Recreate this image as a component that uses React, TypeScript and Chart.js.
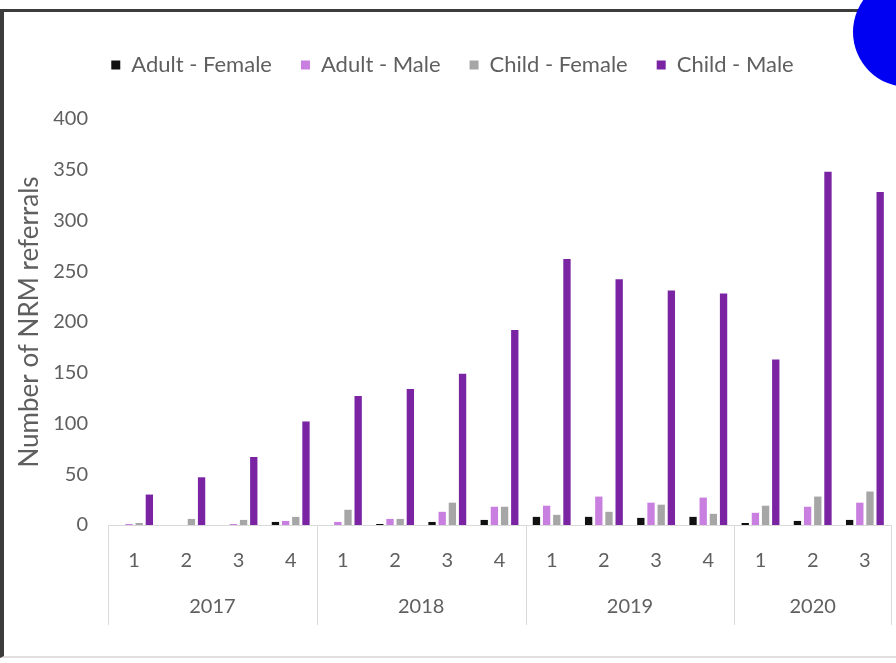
import React, { useEffect, useRef } from "react";
import { Chart, registerables } from "chart.js";

Chart.register(...registerables);

// ---- data ----
const quarters = ["1", "2", "3", "4", "1", "2", "3", "4", "1", "2", "3", "4", "1", "2", "3"];
const years = ["2017", "2018", "2019", "2020"];
const quartersPerYear = [4, 4, 4, 3];
const adultFemale = [0, 0, 0, 3, 0, 1, 3, 5, 8, 8, 7, 8, 2, 4, 5];
const adultMale = [1, 0, 1, 4, 3, 6, 13, 18, 19, 28, 22, 27, 12, 18, 22];
const childFemale = [2, 6, 5, 8, 15, 6, 22, 18, 10, 13, 20, 11, 19, 28, 33];
const childMale = [30, 47, 67, 102, 127, 134, 149, 192, 262, 242, 231, 228, 163, 348, 328];
const yMax = 400;
const yStep = 50;

const FONT = "Lato";
const TEXT = "#5f5f5f";
const LINE = "#d9d9d9";

const yearAxisPlugin = {
  id: "yearAxis",
  afterDraw(chart: any) {
    const x = chart.scales.x;
    const ctx = chart.ctx;
    const half = (x.getPixelForValue(1) - x.getPixelForValue(0)) / 2;
    const top = chart.chartArea.bottom;
    ctx.save();
    ctx.strokeStyle = LINE;
    ctx.lineWidth = 1;
    ctx.fillStyle = TEXT;
    ctx.font = `20px ${FONT}`;
    ctx.textAlign = "center";
    ctx.textBaseline = "middle";
    let idx = 0;
    years.forEach((yr, g) => {
      const start = x.getPixelForValue(idx) - half;
      const end = x.getPixelForValue(idx + quartersPerYear[g] - 1) + half;
      [start, end].forEach((px) => {
        const p = Math.round(px) + 0.5;
        ctx.beginPath();
        ctx.moveTo(p, top);
        ctx.lineTo(p, top + 100);
        ctx.stroke();
      });
      ctx.fillText(yr, (start + end) / 2, top + 82);
      idx += quartersPerYear[g];
    });
    ctx.restore();
  },
};

const legendHeightPlugin = {
  id: "legendHeight",
  beforeInit(chart: any) {
    const fit = chart.legend.fit;
    chart.legend.fit = function () {
      fit.bind(chart.legend)();
      this.height = 94;
    };
  },
};

export default function App() {
  const ref = useRef<HTMLCanvasElement | null>(null);
  useEffect(() => {
    if (!ref.current) return;
    const common = { categoryPercentage: 0.78, barPercentage: 0.72 };
    const chart = new Chart(ref.current, {
      type: "bar",
      data: {
        labels: quarters,
        datasets: [
          { label: "Adult - Female", data: adultFemale, backgroundColor: "#111111", ...common },
          { label: "Adult - Male", data: adultMale, backgroundColor: "#c97fe0", ...common },
          { label: "Child - Female", data: childFemale, backgroundColor: "#a6a6a6", ...common },
          { label: "Child - Male", data: childMale, backgroundColor: "#7a24a4", ...common },
        ],
      },
      options: {
        responsive: false,
        animation: false,
        layout: { padding: { left: 14, top: 25, right: 5, bottom: 0 } },
        plugins: {
          legend: {
            position: "top",
            labels: {
              boxWidth: 9,
              boxHeight: 9,
              padding: 29,
              color: TEXT,
              font: { family: FONT, size: 22 },
            },
          },
          tooltip: { enabled: false },
        },
        scales: {
          x: {
            grid: { display: false, drawTicks: false },
            border: { display: true, color: LINE },
            ticks: { color: TEXT, font: { family: FONT, size: 20 }, padding: 24, maxRotation: 0 },
            afterFit: (s: any) => {
              s.height = 138;
            },
          },
          y: {
            min: 0,
            max: yMax,
            grid: { display: false, drawTicks: false },
            border: { display: false },
            ticks: { stepSize: yStep, color: TEXT, font: { family: FONT, size: 20 }, padding: 20 },
            title: {
              display: true,
              text: "Number of NRM referrals",
              color: TEXT,
              font: { family: FONT, size: 26 },
              padding: { top: 0, bottom: 0 },
            },
            afterFit: (s: any) => {
              s.width = 94;
            },
          },
        },
      },
      plugins: [yearAxisPlugin, legendHeightPlugin],
    });
    return () => chart.destroy();
  }, []);

  return (
    <div style={{ position: "fixed", left: 0, top: 0, width: 896, height: 663, background: "#fff", overflow: "hidden" }}>
      <div
        style={{
          position: "absolute",
          left: 0,
          top: 9,
          width: 900,
          height: 649,
          borderLeft: "4px solid #3c3c3c",
          borderTop: "3px solid #3c3c3c",
          borderBottom: "2px solid #e0e0e0",
          boxSizing: "border-box",
        }}
      />
      <canvas ref={ref} width={896} height={663} style={{ position: "absolute", left: 0, top: 0 }} />
      <div
        style={{
          position: "absolute",
          left: 853,
          top: -23,
          width: 110,
          height: 110,
          borderRadius: "50%",
          background: "#0000f2",
        }}
      />
    </div>
  );
}
